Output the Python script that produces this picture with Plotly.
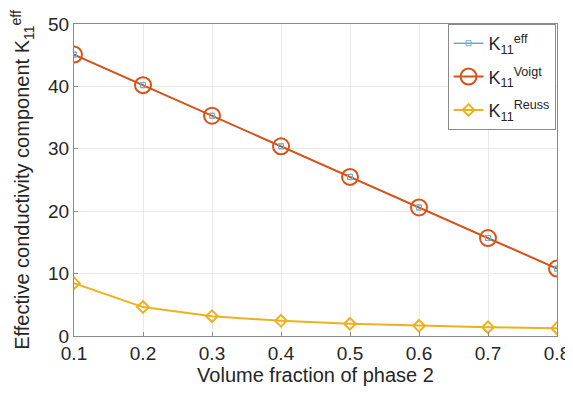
import plotly.graph_objects as go

volume_fraction = [0.1, 0.2, 0.3, 0.4, 0.5, 0.6, 0.7, 0.8]
k_eff = [45.1, 40.2, 35.3, 30.4, 25.5, 20.6, 15.7, 10.8]
k_voigt = [45.1, 40.2, 35.3, 30.4, 25.5, 20.6, 15.7, 10.8]
k_reuss = [8.47, 4.63, 3.18, 2.43, 1.96, 1.64, 1.42, 1.24]
x_ticks = [0.1, 0.2, 0.3, 0.4, 0.5, 0.6, 0.7, 0.8]
y_ticks = [0, 10, 20, 30, 40, 50]

FONT = "Liberation Sans, Arial, Helvetica, sans-serif"

fig = go.Figure()
fig.add_trace(go.Scatter(
    x=volume_fraction, y=k_eff, mode="lines+markers",
    name="K<sub>11</sub><sup>eff</sup>", legendgroup="a",
    line=dict(color="#2f7fa6", width=1),
    marker=dict(symbol="square-open", size=5, color="#6fb0cc", line=dict(width=1, color="#6fb0cc")),
))
fig.add_trace(go.Scatter(
    x=volume_fraction, y=k_voigt, mode="lines+markers",
    name="K<sub>11</sub><sup>Voigt</sup>", legendgroup="b",
    line=dict(color="#D95319", width=2),
    marker=dict(symbol="circle-open", size=16, color="#D95319", line=dict(width=2, color="#D95319")),
))
fig.add_trace(go.Scatter(
    x=volume_fraction, y=k_reuss, mode="lines+markers",
    name="K<sub>11</sub><sup>Reuss</sup>", legendgroup="c",
    line=dict(color="#EDB120", width=2),
    marker=dict(symbol="diamond-open", size=9, color="#EDB120", line=dict(width=2, color="#EDB120")),
))
# redraw eff markers on top so the small squares show inside circles
fig.add_trace(go.Scatter(
    x=volume_fraction, y=k_eff, mode="markers", showlegend=False, hoverinfo="skip",
    marker=dict(symbol="square-open", size=5, color="#6fb0cc", line=dict(width=1, color="#6fb0cc")),
))

axis_common = dict(
    showgrid=True, gridcolor="#e8e8e8", gridwidth=1,
    showline=True, linecolor="#8a8a8a", linewidth=1, mirror=True,
    ticks="inside", ticklen=4, tickcolor="#8a8a8a",
    tickfont=dict(family=FONT, size=19, color="#262626"),
    zeroline=False, automargin=False,
)

# the page body adds an 8px offset; figure is sized to fit the 573x397 window
fig.update_layout(
    width=565, height=389,
    margin=dict(l=66, r=16, t=16, b=61),
    paper_bgcolor="white", plot_bgcolor="white",
    font=dict(family=FONT, color="#262626"),
    xaxis=dict(range=[0.1, 0.8], tickvals=x_ticks, ticktext=[f"{v:.1f}" for v in x_ticks],
               title=dict(text="Volume fraction of phase 2", font=dict(size=20, family=FONT), standoff=0),
               **axis_common),
    yaxis=dict(range=[0, 50], tickvals=y_ticks,
               title=dict(text="Effective conductivity component K<sub>11</sub><sup>eff</sup>",
                          font=dict(size=20, family=FONT), standoff=16),
               **axis_common),
    legend=dict(x=0.997, y=1, xanchor="right", yanchor="top",
                bgcolor="white", bordercolor="#8a8a8a", borderwidth=1,
                font=dict(family=FONT, size=18, color="#262626"),
                tracegroupgap=7, itemwidth=30),
    showlegend=True,
)

fig.write_html("out.html")
